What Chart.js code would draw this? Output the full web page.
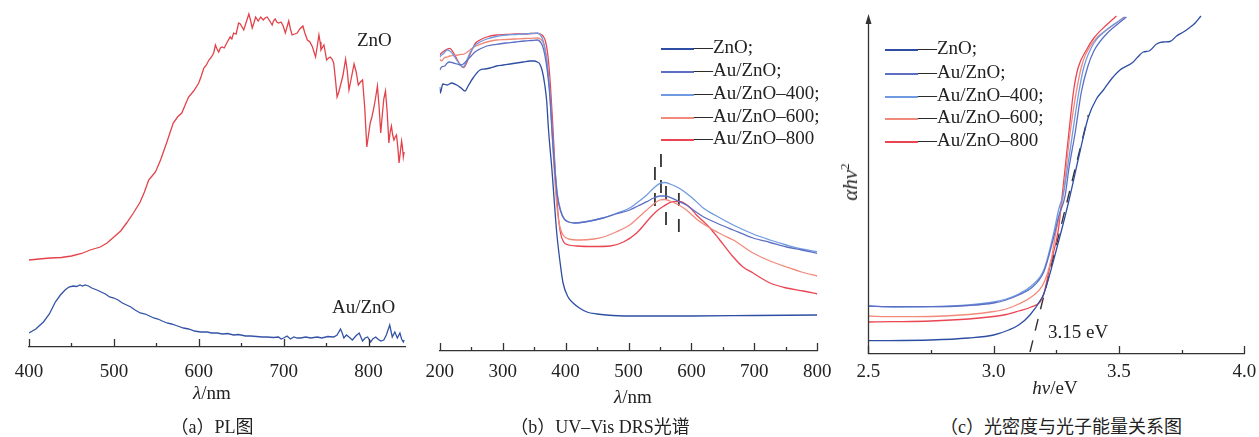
<!DOCTYPE html>
<html>
<head>
<meta charset="utf-8">
<script src="https://cdn.jsdelivr.net/npm/chart.js@4.4.0/dist/chart.umd.min.js"></script>
<style>
  body { margin: 0; background: #fff; width: 1259px; height: 437px; overflow: hidden; position: relative;
         font-family: "Liberation Serif", "Times New Roman", serif; color: #222; }
  canvas { position: absolute; top: 0; }
  .t { position: absolute; white-space: nowrap; font-size: 19px; line-height: 20px; transform: translateY(-50%); }
  .c { transform: translate(-50%, -50%); }
  .cap { font-size: 18px; font-family: "Liberation Serif", "Noto Sans CJK SC", serif; }
  .lg span { display: inline-block; width: 33px; height: 0; border-top: 2px solid; vertical-align: middle; }
  .yt { position: absolute; font-size: 21px; white-space: nowrap; transform: translate(-50%, -50%) rotate(-90deg); }
</style>
</head>
<body>
<canvas id="chartA" width="420" height="400" style="left:0"></canvas>
<canvas id="chartB" width="432" height="400" style="left:414px"></canvas>
<canvas id="chartC" width="425" height="400" style="left:840px"></canvas>

<!-- panel (a) labels -->
<div class="t" style="left:357px;top:40px">ZnO</div>
<div class="t" style="left:332px;top:307px">Au/ZnO</div>
<div class="t c" style="left:212px;top:393px"><i>λ</i>/nm</div>
<div class="t c cap" style="left:212px;top:427px">（a）PL图</div>

<!-- panel (b) labels -->
<div class="t lg" style="left:661px;top:47px"><span style="border-color:#2e4ea3"></span>—ZnO;</div>
<div class="t lg" style="left:661px;top:70px"><span style="border-color:#5d6fc4"></span>—Au/ZnO;</div>
<div class="t lg" style="left:661px;top:93px"><span style="border-color:#6f9be0"></span>—Au/ZnO–400;</div>
<div class="t lg" style="left:661px;top:116px"><span style="border-color:#f28a7c"></span>—Au/ZnO–600;</div>
<div class="t lg" style="left:661px;top:138px"><span style="border-color:#ea4552"></span>—Au/ZnO–800</div>
<div class="t c" style="left:633px;top:397px"><i>λ</i>/nm</div>
<div class="t c cap" style="left:600px;top:427px">（b）UV–Vis DRS光谱</div>

<!-- panel (c) labels -->
<div class="t lg" style="left:885px;top:48px"><span style="border-color:#2e4ea3"></span>—ZnO;</div>
<div class="t lg" style="left:885px;top:72px"><span style="border-color:#5d6fc4"></span>—Au/ZnO;</div>
<div class="t lg" style="left:885px;top:95px"><span style="border-color:#6f9be0"></span>—Au/ZnO–400;</div>
<div class="t lg" style="left:885px;top:117px"><span style="border-color:#f28a7c"></span>—Au/ZnO–600;</div>
<div class="t lg" style="left:885px;top:140px"><span style="border-color:#ea4552"></span>—Au/ZnO–800</div>
<div class="t" style="left:1048px;top:332px">3.15 eV</div>
<div class="yt" style="left:850px;top:182px"><i>αhν</i><sup style="font-size:13px">2</sup></div>
<div class="t c" style="left:1055px;top:388px"><i>hν</i>/eV</div>
<div class="t c cap" style="left:1061px;top:427px">（c）光密度与光子能量关系图</div>

<script>
// ---- (a) PL spectra: [wavelength nm, intensity] ----
const plZnO = [[400,87],[412,88],[425,89],[438,89.5],[450,91],[462,93.5],[472,97],[484,100],[492,104],[500,110],
  [508,116],[515,124],[523,134],[531,145],[536,155],[541,167],[545,171],[549,175],[555,187],[562.5,205],[566,214],
  [570,224],[575,230],[580,234],[584,242],[588,250],[594,256],[600,264],[603,271],[606,279],[609,282],[612,287],
  [615,290],[617.6,294],[619.6,302],[621.5,298],[623.5,295],[625.5,299],[627.5,300],[630,299],[633,304],[637,310],
  [639,308],[641,314],[644,313],[647,324],[649,323],[651,320],[653,317],[656,325],[659,333],[661,327],[663,319],
  [665,324],[667,330],[670,326],[673,330],[676,327],[678,329],[680.6,330],[683,327],[686.5,322],[688,326],[690,328],
  [692,325],[694,324],[697,325],[699.5,321],[702,314],[704,320],[706,326],[708,318],[710,312],[713,313],[716,314],
  [719,318],[722.7,321],[725,314],[728,307],[731,305],[734,300],[737.6,290],[739.5,300],[741.6,312],[743,305],
  [744,297],[746,300],[747.5,302],[749,295],[750.6,287],[753,289],[755,290],[757,288],[759,284],[761,268],[763,250],
  [765,255],[768,265],[770,272],[773,288],[775,276],[777,257],[780,270],[783,283],[785.5,275],[788,262],[790.5,265],
  [793,267],[795.5,240],[798,200],[800,212],[802,224],[804,230],[806.5,240],[808.5,250],[810.5,261],[812.5,240],
  [814.4,214],[816,230],[818,248],[820,256],[822,235],[824,204],[825.5,215],[827,221],[828.5,212],[830,207],
  [831.5,210],[833,212],[834.5,200],[836,184],[837.5,195],[839,206],[840,200],[841,190],[842,195]];
const plAuZnO = [[400,14],[408,18],[417,25],[424,33],[431,45],[437,52],[442.5,57],[447,60],[452,61],[456,60.5],
  [460,62],[463,61],[466,62],[470,61],[474,59],[480,57],[485,55],[490,53],[495,50],[500,49],[505,47],[510,44],
  [515,42],[520,40],[525,37],[531,34],[537,33],[542,31],[547,29],[552,28],[557,26],[562.5,24],[568,23],[575,21],
  [582,19],[588,18],[595,16],[602,15],[610,15],[615,14],[621.6,14],[628,13],[634,13.5],[641,12],[647,12.5],[655,11],
  [661,11],[668,10.5],[675,10],[680.6,10],[688,9.5],[694,10],[697,8],[700,9],[704,11],[708,8],[712,10],[716,9],
  [720,9],[726,10],[732,9],[739.6,10],[745,9],[752,10.5],[759,10],[763,12],[767,18],[769,14],[771,9],[774,12],
  [777,10],[781,7],[785,11],[789,14],[791,10],[793,6],[796,9],[799,10],[802.6,5],[805,8],[808.5,10],[811,8],
  [814.4,6],[818,7],[821,12],[825,22],[828,10],[831,15],[834,9],[837,14],[839,8],[841,5],[842,7]];

// ---- (b) UV-Vis DRS: [wavelength nm, absorbance] ----
const uvZnO = [[200,264],[201,258],[205,267],[212,266],[219,268],[227,266],[234,263],[240,260],[246,266],[253,273],
  [264,281],[272,282],[280,283],[290,285],[301,286],[312,287],[322,288],[333,289],[343,290],[350,290],[355,289],
  [359,287],[363,280],[367,266],[370,250],[372.6,224],[375,205],[378,184],[382,150],[386,118],[391,90],[396,68],
  [404,54],[412,48],[422,43],[434,39],[450,37],[465,36],[500,35],[600,35],[700,35.5],[800,36]];
const uvAuZnO = [[200,281],[203,284],[208,285],[212,288],[216,289],[222,288],[228,287],[233,286],[237.5,287],
  [244,291],[250,295],[256,299],[264,302],[275,305],[290,306.7],[305,308],[320,309],[335,310],[345,310.5],[355,311],
  [360,309],[364,304],[367,296],[371,280],[375,255],[379,215],[383,180],[387,155],[392,140],[398,132],[405,129],
  [415,128],[430,129],[459.6,133],[480,137],[502,141],[515,145],[529,149.3],[540,153],[550,155],[558,155],
  [566,153.7],[580,149.5],[592,146],[605,140],[618.7,134.3],[640,128],[666.5,121],[698,113],[725,108.5],[751,104],
  [775,101],[800,97.7]];
const uvAu400 = [[200,294],[203,296],[207,298],[212,301],[216,300],[222,296],[228,290],[233,286],[237.5,284],
  [242,289],[248,298],[255,305],[264,309],[275,312],[290,314.5],[305,316],[320,316.5],[335,317],[345,317.5],
  [355,318],[360,316],[364,311],[367,303],[371,286],[375,260],[379,220],[383,184],[387,157],[392,141],[398,132],
  [405,129],[415,128],[430,129],[459.6,133],[480,137.5],[502,143],[515,149],[529,156],[540,163],[550,167.7],
  [558,168.5],[566,167],[580,163],[592,157.7],[605,151],[618.7,143],[640,135],[666.5,126],[698,117],[725,111],
  [751,106],[775,102],[800,99.3]];
const uvAu600 = [[200,292],[203,290],[207,293],[212,294],[216,295],[222,295.5],[228,296],[233,296.5],[237.5,296.7],
  [244,299],[250,302],[256,304.5],[264,306.7],[275,309],[290,311],[305,311.5],[320,312],[335,312.5],[345,312.7],
  [355,313],[360,312],[364,309],[367,303],[371,288],[375,258],[379,212],[383,170],[387,140],[391,124],[396,116],
  [405,112],[423,111],[445,112],[460,114],[480,119],[502,126],[515,133],[529,141],[540,147],[550,151],[558,151.5],
  [566,150],[580,146],[592,141],[610,131],[629.5,123],[650,116],[666.5,111],[698,98],[725,90],[751,84],[775,79],
  [800,75]];
const uvAu800 = [[200,296],[203,298],[207,300],[212,302],[216,302.7],[222,298],[228,291],[233,286],[237.5,283.3],
  [242,287],[247,295],[252,302],[257,308],[264,311],[275,314],[290,316],[305,316.5],[320,317],[335,317],
  [345,317.5],[355,317.7],[360,317],[364,315],[368,310],[372,295],[376,265],[380,222],[384,175],[388,138],
  [392,118],[397,109],[405,106],[418,105],[445,104.5],[471,105],[492,109],[513,118],[534,133],[545,140],
  [555,144.5],[571,149.3],[580,149.5],[587,148.3],[600,142],[608,136],[620,129],[629.5,123],[645,111],[666.5,94],
  [682,84],[698,78],[725,68],[751,63],[777.7,60],[800,57]];
// plasmon peak markers (dashed): wavelength, top, bottom
const peakX = [542, 551.6, 559.6, 580];
const peakTop = [184, 197, 165, 158];
const peakBottom = [145, 158, 126, 118];

// ---- (c) Tauc plot: [photon energy eV, (αhν)^2] ----
const tcZnO = [[2.5,13.3],[2.75,14],[2.9,16],[3.0,19],[3.06,24],[3.1,29],[3.145,39],[3.192,56],[3.2,60],[3.25,104],
  [3.3,153],[3.345,203],[3.378,237],[3.41,255],[3.438,264],[3.47,275],[3.504,284],[3.557,292],[3.575,297],
  [3.597,302],[3.62,303],[3.65,310],[3.675,312],[3.704,312.5],[3.73,318],[3.757,322],[3.78,326],[3.804,331],
  [3.827,338]];
const tcAuZnO = [[2.5,48],[2.6,47.3],[2.75,47.3],[2.9,48.5],[3.0,51],[3.05,54],[3.1,59],[3.15,66],[3.2,82],
  [3.237,114],[3.26,138],[3.285,158],[3.3,185],[3.325,221],[3.35,262],[3.375,287],[3.4,303],[3.45,320],[3.5,331],
  [3.53,337]];
const tcAu400 = [[2.5,48],[2.6,47],[2.75,47.3],[2.9,49],[3.0,52],[3.05,55],[3.1,60],[3.15,68],[3.2,84],[3.237,118],
  [3.26,145],[3.278,160],[3.3,195],[3.315,221],[3.34,262],[3.36,287],[3.4,311],[3.45,324],[3.5,333],[3.525,337]];
const tcAu600 = [[2.5,38],[2.6,37.3],[2.75,37.5],[2.9,39.5],[3.0,42.5],[3.05,45],[3.1,50],[3.15,57],[3.2,71],
  [3.23,95],[3.25,124],[3.275,154],[3.305,221],[3.35,287],[3.4,313],[3.45,324],[3.5,333],[3.52,337]];
const tcAu800 = [[2.5,32],[2.6,32.3],[2.75,33],[2.9,35],[3.0,37.5],[3.05,39.5],[3.1,43],[3.15,47],[3.185,52],
  [3.2,60],[3.225,88],[3.258,124],[3.27,150],[3.3,221],[3.32,265],[3.338,287],[3.37,304],[3.4,316],[3.45,329],
  [3.49,338]];
const tangentX = [3.145, 3.378];
const tangentY = [2, 239];

const COL = { zno: '#2e4ea3', au: '#5d6fc4', a400: '#6f9be0', a600: '#f28a7c', a800: '#ea4552' };
const TICK_FONT = { family: '"Liberation Serif", serif', size: 19 };

const toXY = arr => arr.map(([x, y]) => ({ x, y }));
function line(arr, color, smooth) {
  return { data: toXY(arr), borderColor: color, borderWidth: 1.3, pointRadius: 0,
           tension: 0, cubicInterpolationMode: smooth ? 'monotone' : 'default' };
}
function dashed(xs, ys, dash, width) {
  return { data: xs.map((x, i) => ({ x, y: ys[i] })), borderColor: '#333', borderWidth: width,
           borderDash: dash, pointRadius: 0, tension: 0 };
}

// short tick marks pointing into the plot, plus optional arrowed y axis
const inwardTicks = {
  id: 'inwardTicks',
  afterDraw(chart, args, opts) {
    const { ctx, chartArea } = chart;
    const s = chart.scales.x;
    ctx.save();
    ctx.strokeStyle = '#333';
    ctx.lineWidth = 1.3;
    s.ticks.forEach(t => {
      const r = t.value / opts.major;
      const major = Math.abs(r - Math.round(r)) < 1e-6;
      const px = Math.round(s.getPixelForValue(t.value)) + 0.5;
      ctx.beginPath();
      ctx.moveTo(px, chartArea.bottom);
      ctx.lineTo(px, chartArea.bottom - (major ? 8 : 4));
      ctx.stroke();
    });
    if (opts.arrow) {
      const x = Math.round(chartArea.left) + 0.5;
      ctx.beginPath();
      ctx.moveTo(x, chartArea.bottom);
      ctx.lineTo(x, 20);
      ctx.stroke();
      ctx.fillStyle = '#333';
      ctx.beginPath();
      ctx.moveTo(x, 14);
      ctx.lineTo(x - 3, 24);
      ctx.lineTo(x + 3, 24);
      ctx.closePath();
      ctx.fill();
    }
    ctx.restore();
  }
};

function makeChart(id, datasets, x, pad, axisH, labelPad, ymax, tickOpts) {
  return new Chart(document.getElementById(id), {
    type: 'line',
    data: { datasets },
    plugins: [inwardTicks],
    options: {
      responsive: false,
      animation: false,
      layout: { padding: pad },
      plugins: { legend: { display: false }, tooltip: { enabled: false }, inwardTicks: tickOpts },
      scales: {
        x: {
          type: 'linear', min: x.min, max: x.max,
          grid: { display: true, drawOnChartArea: false, drawTicks: false },
          border: { color: '#333', width: 1.3 },
          ticks: {
            stepSize: x.step, includeBounds: false, autoSkip: false, maxRotation: 0,
            padding: labelPad, color: '#222', font: TICK_FONT,
            callback: v => {
              const r = v / x.major;
              return Math.abs(r - Math.round(r)) < 1e-6 ? (x.dec ? v.toFixed(x.dec) : String(v)) : '';
            }
          },
          afterFit: s => { s.height = axisH; }
        },
        y: { display: false, min: 0, max: ymax }
      }
    }
  });
}

makeChart('chartA',
  [line(plZnO, '#e3424a', false), line(plAuZnO, '#3553a8', false)],
  { min: 400, max: 843, step: 50, major: 100 },
  { left: 29, right: 15, top: 10, bottom: 0 }, 53, 14, 337, { major: 100 });

makeChart('chartB',
  [line(uvZnO, COL.zno, true), line(uvAuZnO, COL.au, true), line(uvAu400, COL.a400, true),
   line(uvAu600, COL.a600, true), line(uvAu800, COL.a800, true)]
    .concat(peakX.map((p, i) => dashed([p, p], [peakTop[i], peakBottom[i]], [13, 13], 1.8))),
  { min: 200, max: 800, step: 50, major: 100 },
  { left: 25.7, right: 28.7, top: 10, bottom: 0 }, 49, 10, 341, { major: 100 });

makeChart('chartC',
  [line(tcZnO, COL.zno, true), line(tcAuZnO, COL.au, true), line(tcAu400, COL.a400, true),
   line(tcAu600, COL.a600, true), line(tcAu800, COL.a800, true),
   dashed(tangentX, tangentY, [12, 10], 1.4)],
  { min: 2.5, max: 4.0, step: 0.25, major: 0.5, dec: 1 },
  { left: 28.3, right: 20.7, top: 10, bottom: 0 }, 46, 7, 344, { major: 0.5, arrow: true });
</script>
</body>
</html>
